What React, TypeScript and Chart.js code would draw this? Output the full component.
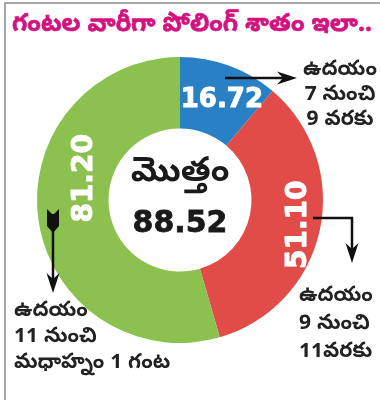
import React, { useEffect, useRef } from "react";
import { Chart, registerables } from "chart.js";

Chart.register(...registerables);

const titleText = "గంటల వారీగా పోలింగ్ శాతం ఇలా..";
const periodNames = ["ఉదయం 7 నుంచి 9 వరకు", "ఉదయం 9 నుంచి 11వరకు", "ఉదయం 11 నుంచి మధాహ్నం 1 గంట"];
const turnoutValues = [16.72, 51.1, 81.2];
const turnoutLabels = ["16.72", "51.10", "81.20"];
const segmentColors = ["#2a80c4", "#e14c48", "#8cc04f"];
const totalCaption = "మొత్తం";
const totalValueLabel = "88.52";
const calloutTop = ["ఉదయం", "7 నుంచి", "9 వరకు"];
const calloutRight = ["ఉదయం", "9 నుంచి", "11వరకు"];
const calloutLeft = ["ఉదయం", "11 నుంచి", "మధాహ్నం 1 గంట"];

const TEL = '"Noto Sans Telugu", "Lohit Telugu", Gautami, "Noto Sans", sans-serif';
const NUM = '"DejaVu Sans", sans-serif';

// placement inside each arc: [angle fraction, radius fraction, rotation]
const labelPlace: [number, number, number][] = [
  [0.55, 0.55, 0],
  [0.5, 0.65, -Math.PI / 2],
  [0.605, 0.4, -Math.PI / 2],
];

function arrowHead(ctx: CanvasRenderingContext2D, tx: number, ty: number, dir: number, len = 20, hw = 6.5, notch = 6) {
  ctx.save();
  ctx.translate(tx, ty);
  ctx.rotate(dir);
  ctx.beginPath();
  ctx.moveTo(0, 0);
  ctx.lineTo(-len, -hw);
  ctx.lineTo(-len + notch, 0);
  ctx.lineTo(-len, hw);
  ctx.closePath();
  ctx.fill();
  ctx.restore();
}

const overlayPlugin = {
  id: "overlay",
  afterDatasetsDraw(chart: any) {
    const ctx: CanvasRenderingContext2D = chart.ctx;
    const meta = chart.getDatasetMeta(0);
    ctx.save();
    // segment values
    meta.data.forEach((arc: any, i: number) => {
      const p = arc.getProps(["x", "y", "startAngle", "endAngle", "innerRadius", "outerRadius"], true);
      const [af, rf, rot] = labelPlace[i];
      const a = p.startAngle + (p.endAngle - p.startAngle) * af;
      const r = p.innerRadius + (p.outerRadius - p.innerRadius) * rf;
      const size = i === 0 ? 26 : 28;
      ctx.save();
      ctx.translate(p.x + r * Math.cos(a), p.y + r * Math.sin(a));
      ctx.rotate(rot);
      ctx.fillStyle = "#ffffff";
      ctx.strokeStyle = "#ffffff";
      ctx.lineWidth = 1;
      ctx.lineJoin = "round";
      ctx.font = `bold ${size}px ${NUM}`;
      ctx.textAlign = "center";
      ctx.textBaseline = "alphabetic";
      ctx.fillText(turnoutLabels[i], 0, size * 0.365);
      ctx.strokeText(turnoutLabels[i], 0, size * 0.365);
      ctx.restore();
    });
    // center text
    const c = meta.data[0];
    ctx.fillStyle = "#1a1a1a";
    ctx.strokeStyle = "#1a1a1a";
    ctx.lineWidth = 0.8;
    ctx.textAlign = "center";
    ctx.textBaseline = "middle";
    ctx.font = `bold 34px ${TEL}`;
    ctx.fillText(totalCaption, c.x, c.y - 24);
    ctx.textBaseline = "alphabetic";
    ctx.font = `bold 30px ${NUM}`;
    ctx.fillText(totalValueLabel, c.x, c.y + 32);
    ctx.strokeText(totalValueLabel, c.x, c.y + 32);
    ctx.restore();
  },
  afterDraw(chart: any) {
    const ctx: CanvasRenderingContext2D = chart.ctx;
    ctx.save();
    // frame
    ctx.strokeStyle = "#8a8a8a";
    ctx.lineWidth = 1.5;
    ctx.beginPath();
    ctx.moveTo(5, 400);
    ctx.lineTo(5, 3);
    ctx.lineTo(380, 3);
    ctx.stroke();
    // title
    ctx.fillStyle = "#d3137f";
    ctx.strokeStyle = "#d3137f";
    ctx.lineWidth = 0.6;
    ctx.font = `bold 25px ${TEL}`;
    ctx.textAlign = "left";
    ctx.textBaseline = "middle";
    ctx.fillText(titleText, 12, 27, 360);
    ctx.strokeText(titleText, 12, 27, 360);

    // arrows
    ctx.strokeStyle = "#111";
    ctx.fillStyle = "#111";
    ctx.lineWidth = 2.5;
    ctx.beginPath();
    ctx.moveTo(225, 78);
    ctx.lineTo(288, 78);
    ctx.stroke();
    arrowHead(ctx, 297, 78, 0);

    ctx.beginPath();
    ctx.moveTo(313, 218);
    ctx.lineTo(352, 218);
    ctx.lineTo(352, 254);
    ctx.stroke();
    arrowHead(ctx, 352, 263, Math.PI / 2);

    ctx.beginPath();
    ctx.moveTo(53, 214);
    ctx.lineTo(53, 284);
    ctx.stroke();
    arrowHead(ctx, 53, 293, Math.PI / 2);
    ctx.beginPath();
    ctx.moveTo(47, 209);
    ctx.lineTo(53, 215);
    ctx.lineTo(59, 209);
    ctx.lineTo(59, 226);
    ctx.lineTo(53, 233);
    ctx.lineTo(47, 226);
    ctx.closePath();
    ctx.fill();

    // callout texts
    ctx.fillStyle = "#222";
    ctx.font = `bold 21px ${TEL}`;
    ctx.textBaseline = "middle";
    ctx.textAlign = "center";
    calloutTop.forEach((t, i) => ctx.fillText(t, 340, 72 + i * 25));
    ctx.textAlign = "left";
    calloutRight.forEach((t, i) => ctx.fillText(t, 299, 298 + i * 28));
    calloutLeft.forEach((t, i) => ctx.fillText(t, 14, 313 + i * 26));
    ctx.restore();
  },
};

export default function App() {
  const ref = useRef<HTMLCanvasElement | null>(null);
  useEffect(() => {
    if (!ref.current) return;
    const chart = new Chart(ref.current, {
      type: "doughnut",
      data: {
        labels: periodNames,
        datasets: [
          {
            data: turnoutValues,
            backgroundColor: segmentColors,
            borderWidth: 0,
          },
        ],
      },
      options: {
        responsive: false,
        animation: false,
        cutout: "50%",
        layout: { padding: { left: 37, right: 57, top: 57, bottom: 57 } },
        plugins: { legend: { display: false }, tooltip: { enabled: false } },
      },
      plugins: [overlayPlugin],
    });
    return () => chart.destroy();
  }, []);
  return (
    <div style={{ position: "absolute", left: 0, top: 0, width: 380, height: 400, background: "#fff" }}>
      <canvas ref={ref} width={380} height={400} style={{ display: "block" }} />
    </div>
  );
}
